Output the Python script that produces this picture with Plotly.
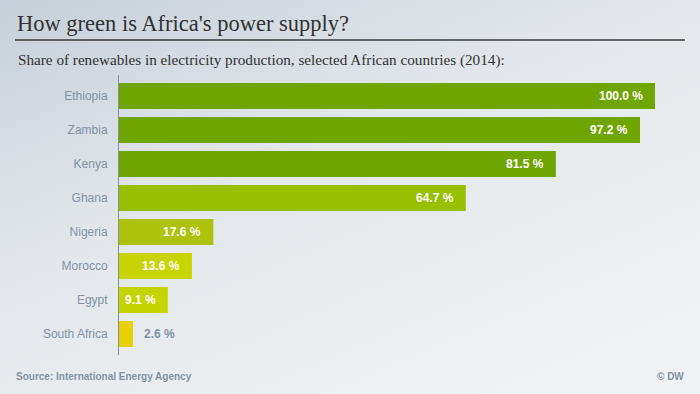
import base64
import plotly.graph_objects as go

countries = ["Ethiopia", "Zambia", "Kenya", "Ghana", "Nigeria", "Morocco", "Egypt", "South Africa"]
shares = [100.0, 97.2, 81.5, 64.7, 17.6, 13.6, 9.1, 2.6]
bar_colors = ["#6fa500", "#6fa500", "#6fa500", "#99c000", "#adc20b", "#c8d400", "#c5d300", "#e8d000"]

title = "How green is Africa's power supply?"
subtitle = "Share of renewables in electricity production, selected African countries (2014):"
source = "Source: International Energy Agency"
credit = "© DW"

W, H = 700, 394
L, R, T, B = 119, 45, 75, 39
PW, PH = W - L - R, H - T - B


def px(x):
    return (x - L) / PW


def py(y):
    return (H - B - y) / PH


svg = f"""<svg xmlns='http://www.w3.org/2000/svg' width='{W}' height='{H}'>
<defs><linearGradient id='g' x1='0' y1='0' x2='0.75' y2='1'>
<stop offset='0' stop-color='#c6cfd9'/>
<stop offset='0.45' stop-color='#e3e7eb'/>
<stop offset='1' stop-color='#f0f1f3'/>
</linearGradient></defs>
<rect width='{W}' height='{H}' fill='url(#g)'/></svg>"""
bg_uri = "data:image/svg+xml;base64," + base64.b64encode(svg.encode()).decode()

label_color = "#8393a4"

fig = go.Figure()
fig.add_trace(go.Bar(
    x=shares, y=countries, orientation="h",
    marker=dict(color=bar_colors, line=dict(width=0)),
    hoverinfo="skip",
))

annotations = []
for c, v in zip(countries, shares):
    inside = v >= 5
    annotations.append(dict(
        x=v, y=c, xref="x", yref="y",
        text=f"<b>{v:.1f} %</b>",
        showarrow=False,
        xanchor="right" if inside else "left",
        xshift=-10 if inside else 9,
        font=dict(family="Liberation Sans, Arial, sans-serif", size=12,
                  color="#ffffff" if inside else label_color),
    ))

annotations += [
    dict(x=px(15), y=py(23), xref="paper", yref="paper", text=title, showarrow=False,
         xanchor="left", yanchor="middle",
         font=dict(family="Liberation Serif, Times New Roman, serif", size=22.5, color="#333333")),
    dict(x=px(16), y=py(60), xref="paper", yref="paper", text=subtitle, showarrow=False,
         xanchor="left", yanchor="middle",
         font=dict(family="Liberation Serif, Times New Roman, serif", size=15.2, color="#333333")),
    dict(x=px(14), y=py(376), xref="paper", yref="paper", text=f"<b>{source}</b>", showarrow=False,
         xanchor="left", yanchor="middle",
         font=dict(family="Liberation Sans, Arial, sans-serif", size=10, color=label_color)),
    dict(x=px(686), y=py(376), xref="paper", yref="paper", text=f"<b>{credit}</b>", showarrow=False,
         xanchor="right", yanchor="middle",
         font=dict(family="Liberation Sans, Arial, sans-serif", size=10, color=label_color)),
]

n = len(countries)
pad = (PH / 34 - n) / 2

fig.update_layout(
    width=W, height=H,
    margin=dict(l=L, r=R, t=T, b=B, pad=0),
    paper_bgcolor="#e6e9ed",
    plot_bgcolor="rgba(0,0,0,0)",
    bargap=1 - 26 / 34,
    showlegend=False,
    annotations=annotations,
    shapes=[dict(type="line", xref="paper", yref="paper",
                 x0=px(15), x1=px(685), y0=py(40), y1=py(40),
                 line=dict(color="#3a3a3a", width=1.5))],
    images=[dict(source=bg_uri, xref="paper", yref="paper",
                 x=px(0), y=py(0), sizex=W / PW, sizey=H / PH,
                 xanchor="left", yanchor="top", sizing="stretch", layer="below")],
    xaxis=dict(range=[0, 100], visible=False, fixedrange=True),
    yaxis=dict(
        categoryorder="array", categoryarray=countries,
        range=[n - 0.5 + pad, -0.5 - pad],
        showline=True, linecolor="#7f8fa0", linewidth=1,
        showgrid=False, zeroline=False, ticks="",
        ticklabelstandoff=8,
        tickfont=dict(family="Liberation Sans, Arial, sans-serif", size=12, color=label_color),
        fixedrange=True,
    ),
)

fig.write_html(
    "out.html",
    config={"displayModeBar": False},
    post_script="document.body.style.margin='0';document.body.style.padding='0';",
)
